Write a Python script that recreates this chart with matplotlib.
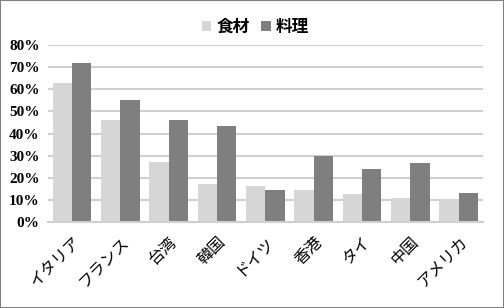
import matplotlib
matplotlib.use("Agg")
import matplotlib.pyplot as plt
import matplotlib.patches as mpatches
from matplotlib.ticker import FuncFormatter
import numpy as np

plt.rcParams['font.family'] = ['Noto Sans CJK JP', 'DejaVu Sans']

# ── data ──────────────────────────────────────────────
countries = ["イタリア", "フランス", "台湾", "韓国", "ドイツ", "香港", "タイ", "中国", "アメリカ"]
shokuzai = [0.63, 0.46, 0.27, 0.17, 0.165, 0.145, 0.127, 0.11, 0.105]
ryouri = [0.72, 0.55, 0.46, 0.435, 0.145, 0.30, 0.24, 0.267, 0.132]
series_names = ["食材", "料理"]

LIGHT = "#d6d6d6"
DARK = "#7f7f7f"
GRID = "#d0d0d0"

fig = plt.figure(figsize=(5.04, 3.08), dpi=100)
ax = fig.add_axes([0.095, 0.279, 0.863, 0.575])

x = np.arange(len(countries))
w = 0.4
ax.bar(x - w / 2, shokuzai, w, color=LIGHT, zorder=2, label=series_names[0])
ax.bar(x + w / 2, ryouri, w, color=DARK, zorder=2, label=series_names[1])

ax.set_xlim(-0.5, len(countries) - 0.5)
ax.set_ylim(0, 0.8)
ax.set_yticks(np.arange(0, 0.81, 0.1))
ax.yaxis.set_major_formatter(FuncFormatter(lambda v, p: f"{v * 100:.0f}%"))
for lab in ax.get_yticklabels():
    lab.set_family(['Liberation Serif', 'DejaVu Serif'])
    lab.set_fontweight('bold')
    lab.set_fontsize(11)
ax.tick_params(axis='y', length=0, pad=6)
ax.grid(axis='y', color=GRID, linewidth=1.5, zorder=0)

ax.set_xticks(x)
ax.set_xticklabels(countries, rotation=45, ha='right', rotation_mode='anchor', fontsize=11.5)
ax.tick_params(axis='x', length=0, pad=8)

for s in ['top', 'right', 'left']:
    ax.spines[s].set_visible(False)
ax.spines['bottom'].set_color(GRID)
ax.spines['bottom'].set_linewidth(1.5)

handles = [mpatches.Patch(facecolor=LIGHT, label=series_names[0]),
           mpatches.Patch(facecolor=DARK, label=series_names[1])]
leg = fig.legend(handles=handles, loc='center', bbox_to_anchor=(0.507, 0.912), ncol=2,
                 frameon=False, handlelength=0.55, handleheight=0.55, handletextpad=0.3,
                 columnspacing=0.7, prop={'family': 'Noto Sans CJK JP', 'weight': 'bold', 'size': 12})

fig.patches.append(mpatches.Rectangle((0, 0), 1, 1, transform=fig.transFigure,
                                      fill=False, edgecolor="#7f7f7f", linewidth=1.5))

fig.savefig("out.png", dpi=100)
